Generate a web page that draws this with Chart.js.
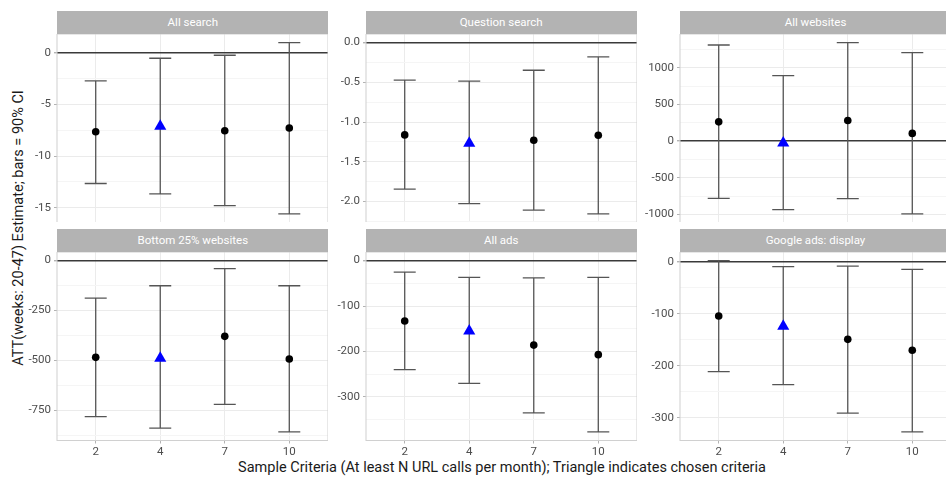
<!DOCTYPE html>
<html>
<head>
<meta charset="utf-8">
<script src="https://cdn.jsdelivr.net/npm/chart.js@4"></script>
<style>
  body { margin: 0; width: 946px; height: 479px; overflow: hidden; background: #fff; font-family: Roboto, sans-serif; position: relative; }
  .strip { position: absolute; background: #b3b3b3; color: #fff; font-size: 11.5px; text-align: center; }
  .box { position: absolute; }
  #ytitle { position: absolute; left: 18px; top: 228px; transform: translate(-50%, -50%) rotate(-90deg); white-space: nowrap; font-size: 14.5px; color: #1a1a1a; }
  #xtitle { position: absolute; left: 502px; top: 467px; transform: translate(-50%, -50%); white-space: nowrap; font-size: 14.5px; color: #1a1a1a; }
</style>
</head>
<body>
<div id="ytitle">ATT(weeks: 20-47) Estimate; bars = 90% CI</div>
<div id="xtitle">Sample Criteria (At least N URL calls per month); Triangle indicates chosen criteria</div>
<script>
// sample criteria (N URL calls per month)
const categories = ["2", "4", "7", "10"];
const chosenIndex = 1;

const titles = ["All search", "Question search", "All websites", "Bottom 25% websites", "All ads", "Google ads: display"];

// estimates and 90% CI
const allSearchEst = [-7.64, -7.1, -7.54, -7.28];
const allSearchLo = [-12.65, -13.66, -14.8, -15.6];
const allSearchHi = [-2.72, -0.52, -0.23, 1.0];

const questionEst = [-1.161, -1.265, -1.228, -1.166];
const questionLo = [-1.844, -2.025, -2.108, -2.155];
const questionHi = [-0.473, -0.486, -0.348, -0.18];

const websitesEst = [263, -25, 282, 105];
const websitesLo = [-781, -936, -786, -994];
const websitesHi = [1312, 895, 1345, 1208];

const bottomEst = [-484, -489, -379, -492];
const bottomLo = [-780, -838, -719, -857];
const bottomHi = [-188, -126, -40, -126];

const adsEst = [-133, -155, -186, -207];
const adsLo = [-240, -270, -335, -377];
const adsHi = [-25.6, -37, -38, -37];

const displayEst = [-104, -124, -149, -170];
const displayLo = [-211, -236, -291, -327];
const displayHi = [2.5, -9, -8, -14.4];

// y tick labels
const allSearchTicks = [0, -5, -10, -15];
const questionTicks = [0, -0.5, -1, -1.5, -2];
const websitesTicks = [1000, 500, 0, -500, -1000];
const bottomTicks = [0, -250, -500, -750];
const adsTicks = [0, -100, -200, -300];
const displayTicks = [0, -100, -200, -300];

const panels = [
    { est: allSearchEst, lo: allSearchLo, hi: allSearchHi, ticks: allSearchTicks, dec: 0 },
    { est: questionEst, lo: questionLo, hi: questionHi, ticks: questionTicks, dec: 1 },
    { est: websitesEst, lo: websitesLo, hi: websitesHi, ticks: websitesTicks, dec: 0 },
    { est: bottomEst, lo: bottomLo, hi: bottomHi, ticks: bottomTicks, dec: 0 },
    { est: adsEst, lo: adsLo, hi: adsHi, ticks: adsTicks, dec: 0 },
    { est: displayEst, lo: displayLo, hi: displayHi, ticks: displayTicks, dec: 0 }
];

const colLeft = [57.3, 365.7, 680];
const rowTop = [11, 229];
const stripH = 22.5;
const plotW = 271;
const plotH = 188.5;
const yAxisW = 45;

/* global Chart */

const errorBars = {
    id: "errorBars",
    beforeDatasetsDraw(chart, args, opts) {
        const x = chart.scales.x, y = chart.scales.y, ctx = chart.ctx;
        ctx.save();
        ctx.strokeStyle = "#555";
        ctx.lineWidth = 1.3;
        opts.lo.forEach((lo, i) => {
            const px = x.getPixelForValue(i + 1);
            const y1 = y.getPixelForValue(lo), y2 = y.getPixelForValue(opts.hi[i]);
            ctx.beginPath();
            ctx.moveTo(px, y1); ctx.lineTo(px, y2);
            ctx.moveTo(px - 11, y1); ctx.lineTo(px + 11, y1);
            ctx.moveTo(px - 11, y2); ctx.lineTo(px + 11, y2);
            ctx.stroke();
        });
        ctx.restore();
    }
};

const panelBorder = {
    id: "panelBorder",
    afterDraw(chart) {
        const a = chart.chartArea, ctx = chart.ctx;
        ctx.save();
        ctx.strokeStyle = "#d0d0d0";
        ctx.lineWidth = 1;
        ctx.strokeRect(a.left, a.top, a.right - a.left, a.bottom - a.top);
        ctx.restore();
    }
};

function noPadding(s) {
    s.paddingTop = 0;
    s.paddingBottom = 0;
    s.paddingLeft = 0;
    s.paddingRight = 0;
}

panels.forEach((p, k) => {
    const row = Math.floor(k / 3), col = k % 3;
    const bottomRow = row === 1;
    const left = colLeft[col], top = rowTop[row] + stripH;

    const strip = document.createElement("div");
    strip.className = "strip";
    strip.style.left = left + "px";
    strip.style.top = rowTop[row] + "px";
    strip.style.width = plotW + "px";
    strip.style.height = stripH + "px";
    strip.style.lineHeight = stripH + "px";
    strip.textContent = titles[k];
    document.body.appendChild(strip);

    const xAxisH = bottomRow ? 20 : 0;
    const box = document.createElement("div");
    box.className = "box";
    box.style.left = (left - yAxisW) + "px";
    box.style.top = top + "px";
    box.style.width = (plotW + yAxisW) + "px";
    box.style.height = (plotH + xAxisH) + "px";
    const canvas = document.createElement("canvas");
    box.appendChild(canvas);
    document.body.appendChild(box);

    // ggplot-like 5% expansion, including the zero line
    const lo = Math.min(0, ...p.lo), hi = Math.max(0, ...p.hi);
    const pad = (hi - lo) * 0.05;

    const step = Math.abs(p.ticks[0] - p.ticks[1]);
    const minor = [];
    for (let v = Math.max(...p.ticks) + step / 2; v > lo - pad - step; v -= step) {
        if (v < hi + pad && v > lo - pad) minor.push(v);
    }
    const isMajor = v => p.ticks.some(t => Math.abs(t - v) < 1e-9);

    new Chart(canvas, {
        type: "scatter",
        data: {
            datasets: [{
                data: p.est.map((v, i) => ({ x: i + 1, y: v })),
                pointStyle: ctx => ctx.dataIndex === chosenIndex ? "triangle" : "circle",
                pointRadius: ctx => ctx.dataIndex === chosenIndex ? 7 : 3.8,
                backgroundColor: ctx => ctx.dataIndex === chosenIndex ? "#0000ff" : "#000",
                borderWidth: 0
            }]
        },
        options: {
            responsive: true,
            maintainAspectRatio: false,
            animation: false,
            layout: { padding: 0, autoPadding: false },
            plugins: {
                legend: { display: false },
                tooltip: { enabled: false },
                errorBars: { lo: p.lo, hi: p.hi }
            },
            scales: {
                x: {
                    type: "linear",
                    min: 0.4,
                    max: 4.6,
                    afterBuildTicks: s => { s.ticks = categories.map((c, i) => ({ value: i + 1 })); },
                    afterFit: s => { s.height = xAxisH; noPadding(s); },
                    border: { display: false },
                    grid: { color: "#ebebeb", lineWidth: 1, tickLength: 3, tickColor: "#b3b3b3", drawTicks: bottomRow },
                    ticks: {
                        display: bottomRow,
                        padding: 2,
                        maxRotation: 0,
                        color: "#4d4d4d",
                        font: { family: "Roboto", size: 11.5 },
                        callback: v => categories[v - 1]
                    }
                },
                y: {
                    type: "linear",
                    min: lo - pad,
                    max: hi + pad,
                    afterBuildTicks: s => {
                        s.ticks = p.ticks.concat(minor).sort((a, b) => b - a).map(v => ({ value: v }));
                    },
                    afterFit: s => { s.width = yAxisW; noPadding(s); },
                    border: { display: false },
                    grid: {
                        color: c => c.tick.value === 0 ? "#3a3a3a" : (isMajor(c.tick.value) ? "#ebebeb" : "#f5f5f5"),
                        lineWidth: c => c.tick.value === 0 ? 1.4 : 1,
                        tickLength: 3,
                        tickColor: c => isMajor(c.tick.value) ? "#b3b3b3" : "rgba(0,0,0,0)"
                    },
                    ticks: {
                        padding: 3,
                        color: "#4d4d4d",
                        font: { family: "Roboto", size: 11.5 },
                        autoSkip: false,
                        callback: v => isMajor(v) ? v.toFixed(p.dec) : ""
                    }
                }
            }
        },
        plugins: [errorBars, panelBorder]
    });
});
</script>
</body>
</html>
